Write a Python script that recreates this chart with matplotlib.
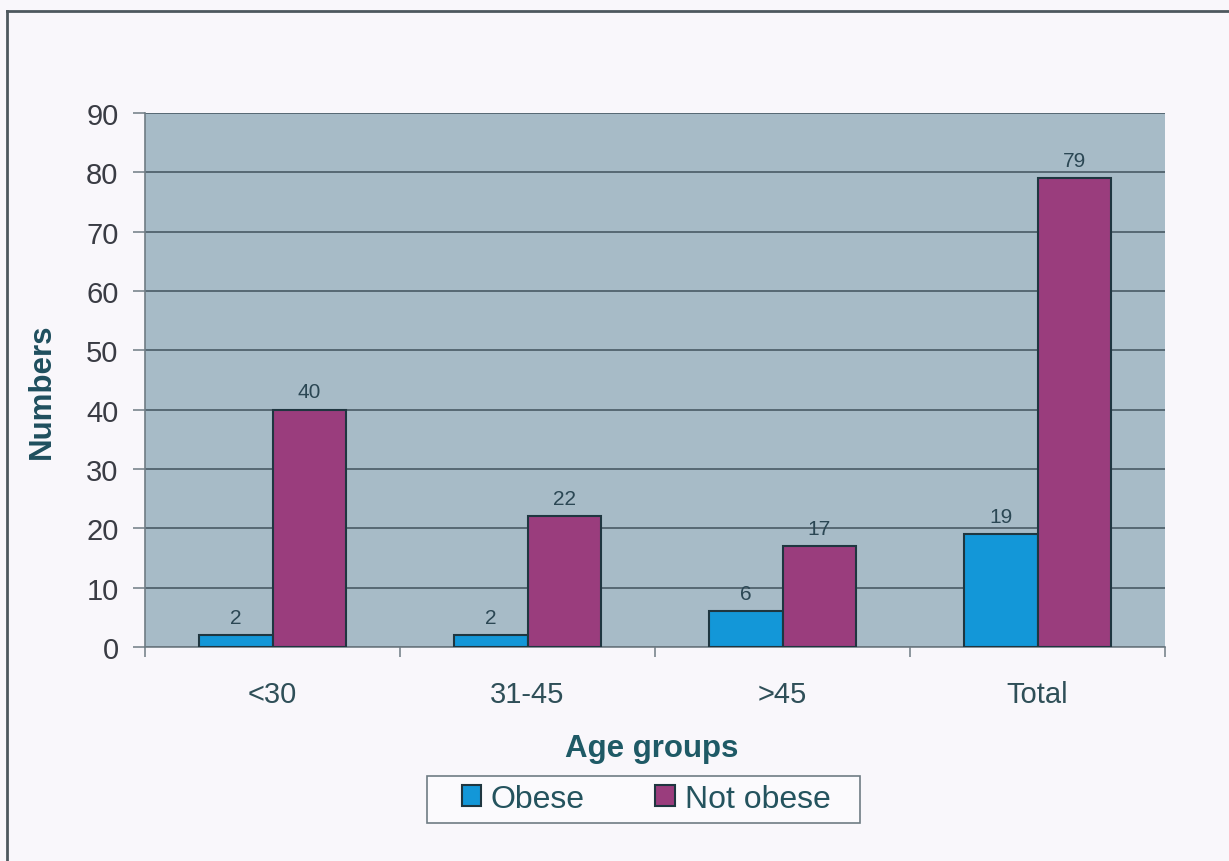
import matplotlib
matplotlib.use("Agg")
import matplotlib.pyplot as plt
from matplotlib.lines import Line2D
from matplotlib.patches import Rectangle
import numpy as np

plt.rcParams['font.family'] = ['Liberation Sans', 'DejaVu Sans']

categories = ["<30", "31-45", ">45", "Total"]
obese = [2, 2, 6, 19]
not_obese = [40, 22, 17, 79]
series_names = ["Obese", "Not obese"]
y_ticks = [0, 10, 20, 30, 40, 50, 60, 70, 80, 90]

W, H = 1229, 862
fig = plt.figure(figsize=(W / 100, H / 100), dpi=100, facecolor="#f9f7fb")
ax = fig.add_axes([145 / W, 1 - 648 / H, 1020 / W, 534 / H])
ax.set_facecolor("#a7bbc7")

# outer frame of the chart (top and left edges visible)
fig.add_artist(Line2D([7 / W, 7 / W], [0, 1 - 12 / H], transform=fig.transFigure,
                      color="#4e585e", lw=2))
fig.add_artist(Line2D([7 / W, 1], [1 - 12 / H, 1 - 12 / H], transform=fig.transFigure,
                      color="#4e585e", lw=2))

x = np.arange(len(categories))
w = 0.29
edge = "#1f3640"
b1 = ax.bar(x - w / 2, obese, w, color="#1397d8", edgecolor=edge, linewidth=1.5,
            label=series_names[0], zorder=3)
b2 = ax.bar(x + w / 2, not_obese, w, color="#9a3d7d", edgecolor=edge, linewidth=1.5,
            label=series_names[1], zorder=3)

for bars, vals in ((b1, obese), (b2, not_obese)):
    for rect, v in zip(bars, vals):
        ax.annotate(f"{v}", (rect.get_x() + rect.get_width() / 2, v),
                    xytext=(0, 6), textcoords="offset points",
                    ha="center", va="bottom", fontsize=15, color="#2b4754")

ax.set_xlim(-0.5, len(categories) - 0.5)
ax.set_ylim(0, 90)
ax.set_yticks(y_ticks)
ax.yaxis.grid(True, color="#41525c", linewidth=1.1, zorder=1)
ax.set_axisbelow(True)

for s in ("top", "right"):
    ax.spines[s].set_visible(False)
for s in ("left", "bottom"):
    ax.spines[s].set_color("#6f7c84")
    ax.spines[s].set_linewidth(1.2)

ax.tick_params(axis="y", length=9, width=1.1, color="#6f7c84", pad=10,
               labelsize=21, labelcolor="#3a3c44")
ax.set_xticks(x)
ax.set_xticklabels(categories)
ax.tick_params(axis="x", which="major", length=0, pad=24, labelsize=21,
               labelcolor="#2f4f58")
ax.set_xticks(np.arange(len(categories) + 1) - 0.5, minor=True)
ax.tick_params(axis="x", which="minor", length=7, width=1.1, color="#6f7c84")

ax.set_xlabel("Age groups", fontsize=22.5, fontweight="bold", color="#1f5a66", va="center")
ax.xaxis.set_label_coords(0.497, (648 - 749) / 534)
ax.set_ylabel("Numbers", fontsize=22.5, fontweight="bold", color="#1f4f5e", va="center")
ax.yaxis.set_label_coords((42 - 145) / 1020, (648 - 391) / 534)

# legend box and entries
fig.add_artist(Rectangle((427 / W, 1 - 824 / H), 433 / W, 47 / H,
                         transform=fig.transFigure, facecolor="#fbfafd",
                         edgecolor="#6f7c84", linewidth=1.2))
leg = fig.legend(handles=[b1, b2], labels=series_names, loc="center",
                 bbox_to_anchor=(646 / W, 1 - 800 / H), ncol=2, frameon=False,
                 fontsize=23, handlelength=0.62, handleheight=0.62,
                 handletextpad=0.3, columnspacing=2.2, borderpad=0.2,
                 labelcolor="#24535e")

fig.savefig("out.png", dpi=100, facecolor=fig.get_facecolor())
